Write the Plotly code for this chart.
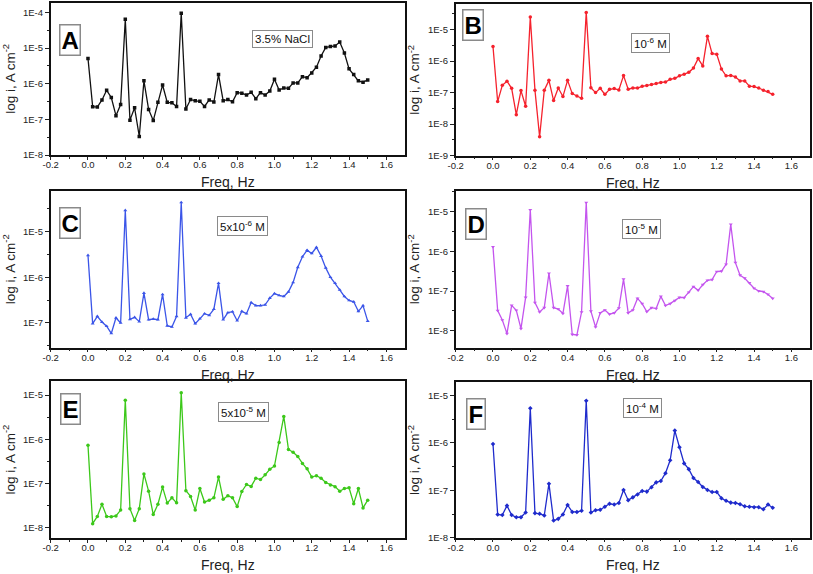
import math
import plotly.graph_objects as go

freq = [0.0, 0.025, 0.05, 0.075, 0.1, 0.125, 0.15, 0.175, 0.2, 0.225, 0.25, 0.275, 0.3, 0.325, 0.35,
        0.375, 0.4, 0.425, 0.45, 0.475, 0.5, 0.525, 0.55, 0.575, 0.6, 0.625, 0.65, 0.675, 0.7, 0.725,
        0.75, 0.775, 0.8, 0.825, 0.85, 0.875, 0.9, 0.925, 0.95, 0.975, 1.0, 1.025, 1.05, 1.075, 1.1,
        1.125, 1.15, 1.175, 1.2, 1.225, 1.25, 1.275, 1.3, 1.325, 1.35, 1.375, 1.4, 1.425, 1.45, 1.475, 1.5]

i_nacl = [5.1e-6, 2.27e-7, 2.2e-7, 3.5e-7, 6.5e-7, 4.1e-7, 1.27e-7, 2.6e-7, 6.4e-5, 9.5e-8, 2.1e-7,
          3.3e-8, 1.2e-6, 1.9e-7, 9.2e-8, 3.0e-7, 9.2e-7, 3.0e-7, 2.9e-7, 2.3e-7, 9.4e-5, 1.95e-7,
          3.6e-7, 3.3e-7, 3.2e-7, 2.3e-7, 3.5e-7, 3.05e-7, 1.8e-6, 3.3e-7, 3.6e-7, 3.1e-7, 5.6e-7,
          5.4e-7, 4.8e-7, 5.7e-7, 3.8e-7, 5.6e-7, 4.8e-7, 6.2e-7, 1.32e-6, 6.6e-7, 7.6e-7, 7.4e-7,
          1.05e-6, 1.05e-6, 1.57e-6, 1.47e-6, 2.0e-6, 2.9e-6, 6.0e-6, 1.04e-5, 1.1e-5, 1.14e-5,
          1.47e-5, 7.2e-6, 2.6e-6, 1.8e-6, 1.2e-6, 1.1e-6, 1.27e-6]

i_1e6 = [2.9e-6, 5.2e-8, 1.7e-7, 2.3e-7, 1.37e-7, 2.0e-8, 1.16e-7, 3.7e-8, 2.5e-5, 1.2e-7, 4.0e-9,
         1.19e-7, 2.45e-7, 5.6e-8, 1.4e-7, 7.5e-8, 2.45e-7, 9.3e-8, 7.8e-8, 6.6e-8, 3.5e-5, 1.44e-7,
         1.0e-7, 1.37e-7, 8.8e-8, 1.28e-7, 1.34e-7, 1.22e-7, 3.46e-7, 1.28e-7, 1.4e-7, 1.4e-7,
         1.59e-7, 1.67e-7, 1.8e-7, 1.93e-7, 2.1e-7, 2.17e-7, 2.65e-7, 2.85e-7, 3.4e-7, 3.8e-7,
         4.4e-7, 6.0e-7, 1.2e-6, 7.0e-7, 6.1e-6, 1.73e-6, 1.65e-6, 5.6e-7, 3.4e-7, 3.5e-7, 3.15e-7,
         2.35e-7, 2.35e-7, 1.6e-7, 1.55e-7, 1.4e-7, 1.2e-7, 1.08e-7, 8.8e-8]

i_5e6 = [3.0e-6, 9.7e-8, 1.4e-7, 1.05e-7, 8.5e-8, 5.9e-8, 1.3e-7, 1.0e-7, 2.9e-5, 1.2e-7, 1.33e-7,
         1.07e-7, 4.5e-7, 1.18e-7, 1.22e-7, 1.18e-7, 4.2e-7, 8.7e-8, 8.2e-8, 1.4e-7, 4.3e-5, 1.3e-7,
         1.55e-7, 9.7e-8, 1.24e-7, 1.6e-7, 1.47e-7, 2.0e-7, 7.4e-7, 1.18e-7, 1.68e-7, 1.77e-7,
         1.12e-7, 1.8e-7, 1.6e-7, 2.8e-7, 2.4e-7, 2.4e-7, 2.5e-7, 3.5e-7, 4.4e-7, 4.0e-7, 3.8e-7,
         4.8e-7, 7.7e-7, 1.65e-6, 2.8e-6, 3.9e-6, 3.3e-6, 4.5e-6, 2.9e-6, 1.6e-6, 1.0e-6, 7.4e-7,
         5.3e-7, 3.8e-7, 3.1e-7, 2.9e-7, 1.8e-7, 2.4e-7, 1.1e-7]

i_1e5 = [1.3e-6, 3.2e-8, 1.85e-8, 8.4e-9, 4.35e-8, 3.25e-8, 1.12e-8, 6.9e-8, 1.12e-5, 5.1e-8, 2.95e-8,
         3.8e-8, 2.8e-7, 3.8e-8, 3.5e-8, 2.7e-8, 1.34e-7, 8.0e-9, 7.8e-9, 2.95e-8, 1.7e-5, 3.1e-8,
         1.23e-8, 2.8e-8, 3.3e-8, 2.6e-8, 2.8e-8, 3.7e-8, 2.0e-7, 2.8e-8, 3.3e-8, 6.5e-8, 4.8e-8,
         3.0e-8, 3.8e-8, 3.6e-8, 7.3e-8, 4.3e-8, 4.8e-8, 5.7e-8, 6.9e-8, 6.8e-8, 9.3e-8, 1.29e-7,
         1.04e-7, 1.44e-7, 1.86e-7, 1.93e-7, 3.1e-7, 3.15e-7, 4.7e-7, 4.8e-6, 5.2e-7, 2.5e-7,
         2.1e-7, 1.6e-7, 1.17e-7, 1.0e-7, 9.6e-8, 8.2e-8, 6.5e-8]

i_5e5 = [7.3e-7, 1.23e-8, 1.8e-8, 3.4e-8, 1.8e-8, 1.77e-8, 1.85e-8, 2.5e-8, 7.7e-6, 2.7e-8, 1.45e-8,
         2.7e-8, 1.65e-7, 6.7e-8, 1.98e-8, 3.4e-8, 8.3e-8, 3.6e-8, 4.75e-8, 3.65e-8, 1.13e-5, 6.9e-8,
         5.1e-8, 2.5e-8, 7.7e-8, 3.8e-8, 4.2e-8, 4.75e-8, 1.4e-7, 4.4e-8, 5.3e-8, 4.75e-8, 3.0e-8,
         6.6e-8, 9.5e-8, 8.6e-8, 1.32e-7, 1.23e-7, 1.57e-7, 2.1e-7, 2.5e-7, 8.5e-7, 3.3e-6, 5.9e-7,
         5.1e-7, 4.1e-7, 2.85e-7, 2.15e-7, 1.4e-7, 1.5e-7, 1.32e-7, 1.05e-7, 9.3e-8, 8.5e-8, 6.7e-8,
         7.7e-8, 8.0e-8, 3.5e-8, 7.7e-8, 2.8e-8, 4.2e-8]

i_1e4 = [9.5e-7, 3.1e-8, 3.0e-8, 4.75e-8, 3.0e-8, 2.7e-8, 2.7e-8, 3.4e-8, 5.4e-6, 3.3e-8, 3.2e-8,
         2.95e-8, 1.38e-7, 2.3e-8, 2.5e-8, 3.1e-8, 4.9e-8, 3.5e-8, 3.5e-8, 3.7e-8, 7.8e-6, 3.4e-8,
         3.8e-8, 3.9e-8, 4.5e-8, 5.2e-8, 5.0e-8, 5.4e-8, 1.02e-7, 6.2e-8, 7.1e-8, 8.2e-8, 9.7e-8,
         9.4e-8, 1.16e-7, 1.47e-7, 1.57e-7, 2.3e-7, 4.3e-7, 1.82e-6, 8.1e-7, 3.7e-7, 2.8e-7,
         1.82e-7, 1.5e-7, 1.18e-7, 1.02e-7, 9.2e-8, 9.2e-8, 6.8e-8, 6.0e-8, 5.5e-8, 5.4e-8, 5.1e-8,
         4.6e-8, 4.5e-8, 4.4e-8, 4.4e-8, 4.0e-8, 5.0e-8, 4.3e-8]

panel_letters = ["A", "B", "C", "D", "E", "F"]
conc_labels = ["3.5% NaCl", "10<sup>-6</sup> M", "5x10<sup>-6</sup> M",
               "10<sup>-5</sup> M", "5x10<sup>-5</sup> M", "10<sup>-4</sup> M"]
series = [i_nacl, i_1e6, i_5e6, i_1e5, i_5e5, i_1e4]
colors = ["#111111", "#f5222d", "#3b55e8", "#c455ee", "#3cc81a", "#1f2bcc"]
symbols = ["square", "circle", "triangle-up", "triangle-down", "circle", "diamond"]
y_ranges = [(-8, -3.73), (-9, -4.19), (-7.54, -4.11), (-8.43, -4.47), (-8.24, -4.68), (-8.0, -4.72)]
x_ticks = [-0.2, 0.0, 0.2, 0.4, 0.6, 0.8, 1.0, 1.2, 1.4, 1.6]
x_ticktext = ["-0.2", "0.0", "0.2", "0.4", "0.6", "0.8", "1.0", "1.2", "1.4", "1.6"]

W, H = 813, 574
# plot-area boxes in pixels: (left, right, top, bottom)
boxes = [(50.7, 405, 2.7, 155), (455.7, 810, 4, 155.7),
         (50.7, 405, 190.7, 347.7), (455.7, 810, 190.7, 347.7),
         (50.7, 405, 381, 538.3), (455.7, 810, 382.3, 537.7)]
letter_pos = [(70, 40), (473, 24.5), (70, 222.5), (476, 224), (70.5, 409), (476, 414)]
conc_pos = [(282.5, 39), (650, 42.5), (242, 226), (641, 229), (243, 412), (642.5, 407.5)]

fig = go.Figure()
font_family = "Liberation Sans, Arial, sans-serif"

for k in range(6):
    xa = "x" if k == 0 else f"x{k+1}"
    ya = "y" if k == 0 else f"y{k+1}"
    fig.add_trace(go.Scatter(
        x=freq, y=series[k], mode="lines+markers", xaxis=xa, yaxis=ya,
        line=dict(color=colors[k], width=1.3),
        marker=dict(color=colors[k], size=3.5, symbol=symbols[k]),
        showlegend=False, hoverinfo="x+y"))
    l, r, t, b = boxes[k]
    lo, hi = y_ranges[k]
    decs = [10.0 ** e for e in range(math.ceil(lo - 1e-9), math.floor(hi + 1e-9) + 1)]
    minors = [10.0 ** (e + 0.5) for e in range(math.floor(lo), math.ceil(hi))
              if lo < e + 0.5 < hi]
    dtext = [f"1E{int(round(math.log10(v)))}" for v in decs]
    xkey = "xaxis" if k == 0 else f"xaxis{k+1}"
    ykey = "yaxis" if k == 0 else f"yaxis{k+1}"
    fig.update_layout(**{
        xkey: dict(domain=[l / W, r / W], anchor=ya, range=[-0.2, 1.7], automargin=False,
                   tickvals=x_ticks, ticktext=x_ticktext, ticks="outside", ticklen=3,
                   ticklabelstandoff=-3,
                   tickwidth=1, tickcolor="#222", showline=True, mirror=True,
                   linecolor="#111", linewidth=1.5, showgrid=False, zeroline=False,
                   tickfont=dict(size=9.5, color="#222", family=font_family),
                   minor=dict(tickvals=[-0.1, 0.1, 0.3, 0.5, 0.7, 0.9, 1.1, 1.3, 1.5],
                              ticks="outside", ticklen=2, tickcolor="#222"),
                   title=dict(text="Freq, Hz", standoff=8,
                              font=dict(size=14, color="#222", family=font_family))),
        ykey: dict(domain=[1 - b / H, 1 - t / H], anchor=xa, type="log", range=[lo, hi],
                   automargin=False,
                   tickvals=decs, ticktext=dtext, ticks="outside", ticklen=4, tickwidth=1,
                   tickcolor="#222", showline=True, mirror=True, linecolor="#111",
                   linewidth=1.5, showgrid=False, zeroline=False,
                   tickfont=dict(size=9.5, color="#222", family=font_family),
                   minor=dict(tickvals=minors, ticks="outside", ticklen=2, tickcolor="#222"),
                   title=dict(text="log i, A cm<sup>-2</sup>", standoff=5,
                              font=dict(size=13.5, color="#222", family=font_family))),
    })
    lx, ly = letter_pos[k]
    fig.add_annotation(x=lx / W, y=1 - ly / H, xref="paper", yref="paper",
                       text=f"<b>{panel_letters[k]}</b>", showarrow=False,
                       font=dict(size=24, color="#000", family=font_family),
                       bordercolor="#8a8a8a", borderwidth=1.5, borderpad=1,
                       bgcolor="white", xanchor="center", yanchor="middle")
    cx, cy = conc_pos[k]
    fig.add_annotation(x=cx / W, y=1 - cy / H, xref="paper", yref="paper",
                       text=conc_labels[k], showarrow=False,
                       font=dict(size=11.5, color="#111", family=font_family),
                       bordercolor="#8a8a8a", borderwidth=1, borderpad=2,
                       bgcolor="white", xanchor="center", yanchor="middle")

fig.update_layout(width=W, height=H, margin=dict(l=0, r=0, t=0, b=0),
                  paper_bgcolor="white", plot_bgcolor="white",
                  font=dict(family=font_family))
fig.write_html("out.html", config={"displayModeBar": False},
               post_script="document.body.style.margin='0';document.body.style.padding='0';")
